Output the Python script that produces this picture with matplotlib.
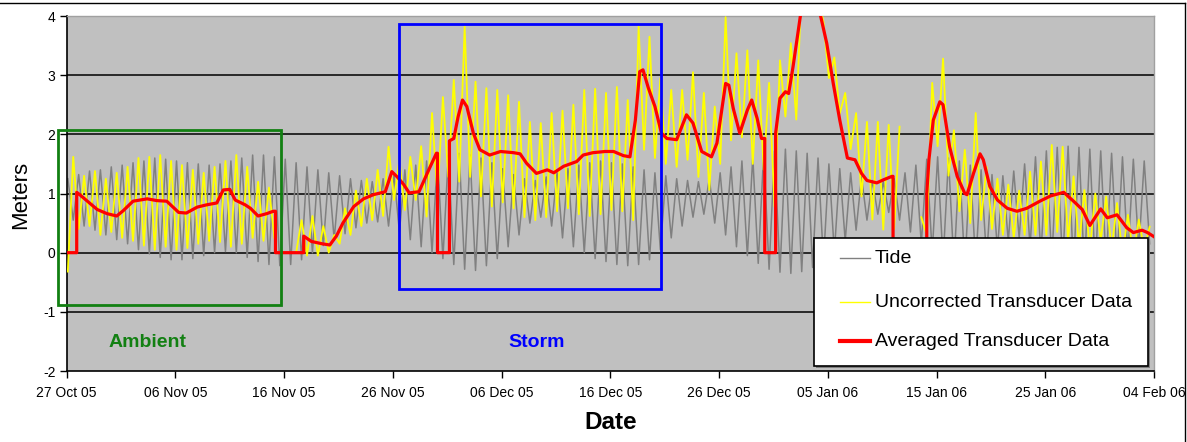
import datetime
import numpy as np
import matplotlib
matplotlib.use('Agg')
import matplotlib.pyplot as plt
import matplotlib.dates as mdates
from matplotlib.patches import Rectangle
from matplotlib.lines import Line2D

FONT = ['Liberation Sans', 'DejaVu Sans']
plt.rcParams['font.family'] = FONT
plt.rcParams['axes.unicode_minus'] = False

nan = np.nan
START = datetime.datetime(2005, 10, 27)

# --- tide: daily high / low (m), day 0 = 27 Oct 05 ---
tide_hi = [1.25, 1.32, 1.38, 1.40, 1.45, 1.48, 1.52, 1.55, 1.60, 1.58,
           1.55, 1.52, 1.50, 1.48, 1.50, 1.55, 1.60, 1.65, 1.65, 1.62,
           1.58, 1.52, 1.45, 1.40, 1.35, 1.30, 1.25, 1.22, 1.20, 1.25,
           1.32, 1.40, 1.48, 1.55, 1.62, 1.65, 1.68, 1.65, 1.60, 1.52,
           1.42, 1.32, 1.25, 1.22, 1.28, 1.35, 1.42, 1.48, 1.52, 1.55,
           1.52, 1.50, 1.45, 1.40, 1.35, 1.30, 1.25, 1.22, 1.20, 1.25,
           1.35, 1.45, 1.55, 1.62, 1.68, 1.72, 1.75, 1.72, 1.68, 1.60,
           1.50, 1.42, 1.35, 1.28, 1.22, 1.20, 1.25, 1.35, 1.48, 1.58,
           1.62, 1.60, 1.55, 1.48, 1.40, 1.32, 1.30, 1.38, 1.50, 1.62,
           1.72, 1.78, 1.80, 1.78, 1.75, 1.72, 1.68, 1.62, 1.58, 1.55]
tide_lo = [0.55, 0.45, 0.38, 0.30, 0.22, 0.15, 0.05, -0.02, -0.08, -0.12,
           -0.12, -0.10, -0.05, 0.00, 0.02, 0.00, -0.08, -0.15, -0.20, -0.22,
           -0.20, -0.12, 0.00, 0.12, 0.22, 0.32, 0.42, 0.50, 0.52, 0.45,
           0.35, 0.22, 0.10, 0.00, -0.10, -0.20, -0.28, -0.30, -0.22, -0.10,
           0.10, 0.30, 0.50, 0.60, 0.45, 0.25, 0.10, 0.00, -0.10, -0.15,
           -0.20, -0.22, -0.20, -0.12, 0.05, 0.25, 0.45, 0.60, 0.65, 0.50,
           0.30, 0.10, -0.05, -0.18, -0.28, -0.33, -0.35, -0.32, -0.25, -0.15,
           0.00, 0.20, 0.38, 0.55, 0.65, 0.68, 0.55, 0.35, 0.15, 0.00,
           -0.15, -0.22, -0.25, -0.20, -0.10, 0.05, 0.20, 0.25, 0.10, -0.05,
           -0.15, -0.22, -0.28, -0.30, -0.28, -0.22, -0.15, -0.05, 0.05, 0.15]

# --- uncorrected transducer: daily high / low (m), nan = no data ---
yel_hi = [1.62, 1.30, 1.38, 1.25, 1.35, 1.45, 1.60, 1.62, 1.65, 1.55,
          1.48, 1.40, 1.35, 1.45, 1.55, 1.65, 1.45, 1.20, 1.10, nan,
          nan, 0.55, 0.62, 0.45, 0.30, 0.75, 1.05, 1.25, 1.40, 1.79,
          1.57, 1.62, 1.80, 2.36, 2.63, 2.92, 3.82, 2.89, 2.78, 2.75,
          2.66, 2.55, 2.21, 2.19, 2.36, 2.40, 2.50, 2.75, 2.77, 2.70,
          2.80, 2.58, 3.82, 3.65, 2.95, 2.75, 2.75, 3.05, 2.70, 2.47,
          3.98, 3.37, 3.42, 3.25, 2.87, 3.25, 3.54, 4.60, 4.60, 3.90,
          3.30, 2.70, 2.36, 2.21, 2.21, 2.16, 2.13, nan, 0.60, 2.87,
          3.28, 2.07, 1.74, 2.36, 1.45, 1.25, 1.15, 1.05, 1.37, 1.54,
          1.82, 1.79, 1.29, 1.06, 1.00, 0.95, 0.84, 0.64, 0.56, 0.44]
yel_lo = [-0.32, 0.40, 0.45, 0.30, 0.35, 0.25, 0.20, 0.12, 0.05, 0.10,
          0.05, 0.08, 0.15, 0.20, 0.18, 0.10, 0.15, 0.25, 0.20, 0.25,
          nan, 0.00, -0.05, -0.05, 0.00, 0.15, 0.30, 0.45, 0.55, 0.62,
          0.89, 0.72, 0.89, 0.61, 0.95, 1.28, 1.20, 1.28, 0.95, 0.78,
          0.85, 0.75, 0.60, 0.55, 0.60, 0.70, 0.75, 0.65, 0.62, 0.65,
          0.72, 0.70, 0.55, 1.74, 1.60, 1.50, 1.45, 1.57, 1.28, 1.06,
          1.50, 1.90, 1.95, 1.50, 1.40, 0.78, 2.30, 2.25, 4.20, 4.30,
          2.95, 2.35, 1.75, 0.95, 0.56, 0.39, 0.40, nan, nan, 0.30,
          1.80, 1.30, 0.70, 0.50, 0.55, 0.40, 0.30, 0.25, 0.30, 0.30,
          0.30, 0.35, 0.20, 0.10, 0.05, 0.20, 0.05, -0.05, -0.05, 0.05]

# --- averaged transducer: (day, m) ---
red_day = [0, 0.92, 0.92, 1.2, 2.1, 2.8, 3.7, 4.6, 5.2, 6.1, 7.4, 8.3, 9.2,
           10.3, 11.0, 12.0, 12.9, 13.8, 14.4, 15.0, 15.5, 16.4, 16.9, 17.6,
           18.4, 19.0, 19.2,
           19.2, 21.8, 21.8, 22.5, 23.5, 24.2, 24.8, 25.4, 26.4, 27.3, 28.2,
           29.3, 29.9, 30.4, 31.0, 31.5, 32.4, 33.3, 34.0, 34.1,
           34.1, 35.2, 35.2, 35.6, 36.0, 36.4, 36.8, 37.4, 38.0, 38.9, 39.9,
           41.1, 41.7, 42.3, 43.2, 44.2, 44.8, 45.7, 46.9, 47.5, 48.4, 49.5,
           50.3, 51.2, 51.8, 52.3, 52.7, 53.0, 53.5, 54.1, 54.7, 55.2, 56.1,
           57.0, 57.6, 58.4, 59.3, 59.8, 60.6, 60.9, 61.3, 61.9, 62.6, 63.0,
           63.5, 63.9, 64.2,
           64.2, 65.2, 65.2, 65.6, 66.1, 66.4, 66.8, 67.5, 68.4, 69.3, 69.9,
           70.5, 71.1, 71.8, 72.5, 73.1, 73.6, 74.5, 75.1, 75.9, 76.0,
           76.0, 79.1, 79.1, 79.3, 79.7, 80.3, 80.6, 81.2, 81.9, 82.6, 82.8,
           83.4, 84.0, 84.3, 84.9, 85.6, 86.5, 87.4, 88.3, 89.5, 90.5, 91.7,
           92.6, 93.4, 94.1, 95.1, 95.7, 96.6, 97.5, 98.1, 98.9, 99.4, 100]
red_val = [0, 0, 1.02, 0.98, 0.84, 0.73, 0.66, 0.62, 0.71, 0.87, 0.91, 0.88, 0.87,
           0.68, 0.67, 0.77, 0.81, 0.84, 1.06, 1.07, 0.89, 0.81, 0.75, 0.62,
           0.66, 0.70, 0.70,
           0, 0, 0.28, 0.19, 0.15, 0.13, 0.28, 0.50, 0.78, 0.91, 0.98,
           1.03, 1.37, 1.28, 1.15, 1.01, 1.03, 1.40, 1.68, 1.68,
           0, 0, 1.89, 1.93, 2.30, 2.58, 2.47, 2.02, 1.74, 1.65, 1.71,
           1.69, 1.67, 1.51, 1.34, 1.40, 1.35, 1.46, 1.54, 1.65, 1.69, 1.71,
           1.71, 1.64, 1.62, 2.24, 3.06, 3.09, 2.78, 2.47, 2.02, 1.93, 1.91,
           2.33, 2.19, 1.71, 1.62, 1.85, 2.86, 2.83, 2.44, 2.02, 2.41, 2.58,
           2.27, 1.93, 1.93,
           0, 0, 2.02, 2.61, 2.72, 2.69, 3.14, 4.03, 4.60, 4.03, 3.54,
           2.86, 2.24, 1.60, 1.57, 1.34, 1.22, 1.18, 1.23, 1.29, 1.29,
           0, 0, 1.0, 1.57, 2.24, 2.55, 2.50, 1.79, 1.29, 1.00, 0.98,
           1.34, 1.67, 1.57, 1.12, 0.89, 0.75, 0.70, 0.75, 0.87, 0.96, 1.02,
           0.87, 0.73, 0.46, 0.74, 0.59, 0.64, 0.42, 0.34, 0.38, 0.34, 0.27]

# boxes: (first day, last day, bottom m, top m)
ambient_box = (-0.77, 19.7, -0.88, 2.07)
storm_box = (30.6, 54.7, -0.62, 3.86)
ambient_label = (7.4, -1.52)
storm_label = (43.2, -1.52)

x_ticks_days = [0, 10, 20, 30, 40, 50, 60, 70, 80, 90, 100]
y_ticks = [-2, -1, 0, 1, 2, 3, 4]
grid_levels = [-1, 0, 1, 2, 3]

# --- build series ---
base = mdates.date2num(START)
idx = np.arange(len(tide_hi))
tide_t = base + np.column_stack([idx + 0.1, idx + 0.6]).ravel()
tide_v = np.column_stack([tide_hi, tide_lo]).ravel()
yel_t = base + np.column_stack([idx + 0.1, idx + 0.6]).ravel()
yel_v = np.column_stack([yel_lo, yel_hi]).ravel()
red_t = base + np.array(red_day)

fig = plt.figure(figsize=(11.87, 4.42), dpi=100)
ax = fig.add_axes([0.0562, 0.1606, 0.9160, 0.8032])
ax.set_facecolor('#C0C0C0')

ax.hlines(grid_levels, 0, 1, transform=ax.get_yaxis_transform(),
          colors='black', linewidth=1.1, zorder=1)

ax.plot(tide_t, tide_v, color='#808080', linewidth=1.1, zorder=2)
ax.plot(yel_t, yel_v, color='#FFFF00', linewidth=1.3, zorder=3)
ax.plot(red_t, red_val, color='#FF0000', linewidth=2.3, zorder=4,
        solid_joinstyle='round')

for (d0, d1, y0, y1), col in [(ambient_box, '#128012'), (storm_box, '#0000FF')]:
    ax.add_patch(Rectangle((base + d0, y0), d1 - d0, y1 - y0, fill=False,
                           edgecolor=col, linewidth=2.0, zorder=5, clip_on=False))

ax.text(base + ambient_label[0], ambient_label[1], 'Ambient', color='#128012',
        fontsize=14, fontweight='bold', ha='center', va='center', zorder=6)
ax.text(base + storm_label[0], storm_label[1], 'Storm', color='#0000FF',
        fontsize=14, fontweight='bold', ha='center', va='center', zorder=6)

ax.set_xlim(base, base + 100)
ax.set_ylim(-2, 4)
ax.set_xticks(base + np.array(x_ticks_days))
ax.xaxis.set_major_formatter(mdates.DateFormatter('%d %b %y'))
ax.set_yticks(y_ticks)
ax.tick_params(axis='both', labelsize=10, length=5, width=1, direction='out')
ax.tick_params(axis='x', pad=6)
ax.tick_params(axis='y', pad=3)

for s in ['left', 'bottom']:
    ax.spines[s].set_color('black')
    ax.spines[s].set_linewidth(1.2)
for s in ['top', 'right']:
    ax.spines[s].set_color('#A0A0A0')
    ax.spines[s].set_linewidth(1.0)

ax.set_xlabel('Date', fontsize=17.5, fontweight='bold', va='center')
ax.xaxis.set_label_coords(0.5006, -0.1437)
ax.set_ylabel('Meters', fontsize=16, va='center', ha='center')
ax.yaxis.set_label_coords(-0.042, 0.4966)

# legend box drawn by hand to match the original placement
lx, ly, lw, lh = 0.6873, 0.0149, 0.3072, 0.3606
ax.add_patch(Rectangle((lx + 0.0018, ly - 0.0055), lw, lh, transform=ax.transAxes,
                       facecolor='#808080', edgecolor='none', zorder=9, clip_on=False))
ax.add_patch(Rectangle((lx, ly), lw, lh, transform=ax.transAxes, facecolor='white',
                       edgecolor='black', linewidth=1.2, zorder=10, clip_on=False))
entries = [('Tide', '#808080', 1.0), ('Uncorrected Transducer Data', '#FFFF00', 1.0),
           ('Averaged Transducer Data', '#FF0000', 3.0)]
rows = [0.3183, 0.1944, 0.0845]
for (lab, col, w), ry in zip(entries, rows):
    ax.add_line(Line2D([0.7112, 0.7388], [ry, ry], transform=ax.transAxes,
                       color=col, linewidth=w, zorder=11, clip_on=False))
    ax.text(0.7434, ry, lab, transform=ax.transAxes, fontsize=14, va='center',
            ha='left', zorder=11)

# outer frame of the embedded chart
fig.add_artist(Line2D([0, 1185 / 1187], [1 - 3 / 442, 1 - 3 / 442], color='black',
                      linewidth=1.0, transform=fig.transFigure))
fig.add_artist(Line2D([1185 / 1187, 1185 / 1187], [0, 1 - 3 / 442], color='black',
                      linewidth=1.0, transform=fig.transFigure))

fig.savefig('out.png', dpi=100)
